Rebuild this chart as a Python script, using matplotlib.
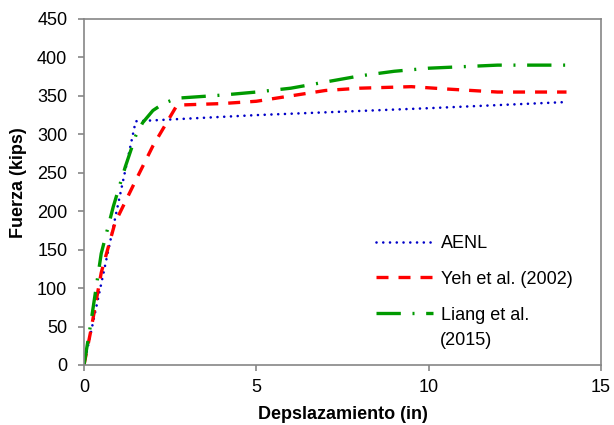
import matplotlib.pyplot as plt

plt.rcParams['font.family'] = ['Liberation Sans', 'DejaVu Sans']

# AENL
x_aenl = [0, 1.5, 5, 10, 14]
y_aenl = [0, 317, 325, 334, 342]

# Yeh et al. (2002)
x_yeh = [0, 0.2, 0.5, 0.9, 1.5, 2.0, 2.7, 4.0, 5.0, 6.0, 7.0, 8.0, 9.5, 10.5, 12, 14]
y_yeh = [0, 45, 120, 185, 240, 285, 338, 340, 343, 350, 357, 360, 362, 359, 355, 355]

# Liang et al. (2015)
x_liang = [0, 0.2, 0.5, 0.85, 1.2, 1.5, 1.7, 2.0, 2.3, 2.7, 4, 5, 6, 7, 8, 9, 10, 11, 12, 14]
y_liang = [0, 55, 145, 206, 258, 298, 315, 331, 340, 347, 351, 355, 360, 368, 376, 382, 386, 388, 390, 390]

fig = plt.figure(figsize=(6.14, 4.25), dpi=100)
ax = fig.add_axes([0.1368, 0.1412, 0.842, 0.8141])

ax.plot(x_aenl, y_aenl, color='#0000C8', lw=1.9, linestyle=(0, (0.01, 2.55)),
        dash_capstyle='round', label='AENL')
ax.plot(x_yeh, y_yeh, color='#FF0000', lw=2.4, linestyle=(0, (3.6, 3.0)), label='Yeh et al. (2002)')
ax.plot(x_liang, y_liang, color='#009A00', lw=2.4, linestyle=(0, (7.3, 3.5, 0.6, 3.5)),
        label='Liang et al.')

ax.set_xlim(0, 15)
ax.set_ylim(0, 450)
ax.set_xticks([0, 5, 10, 15])
ax.set_yticks(range(0, 451, 50))
for s in ax.spines.values():
    s.set_color('#868686')
    s.set_linewidth(1.2)
ax.tick_params(colors='#868686', labelcolor='black', labelsize=13, length=4, width=1.2)
ax.tick_params(axis='y', pad=8)
ax.tick_params(axis='x', pad=6)

ax.set_xlabel('Depslazamiento (in)', fontsize=13, fontweight='bold')
ax.set_ylabel('Fuerza (kips)', fontsize=13, fontweight='bold')
ax.xaxis.set_label_coords(0.5, -0.118)
ax.yaxis.set_label_coords(-0.11, 0.526)

leg = ax.legend(loc='upper left', bbox_to_anchor=(0.55, 0.397), frameon=False, fontsize=13,
                handlelength=3.2, handletextpad=0.45, labelspacing=1.05, borderaxespad=0)
ax.text(0.6886, 0.072, '(2015)', transform=ax.transAxes, fontsize=13, va='center', ha='left')

fig.savefig('out.png', dpi=100)
